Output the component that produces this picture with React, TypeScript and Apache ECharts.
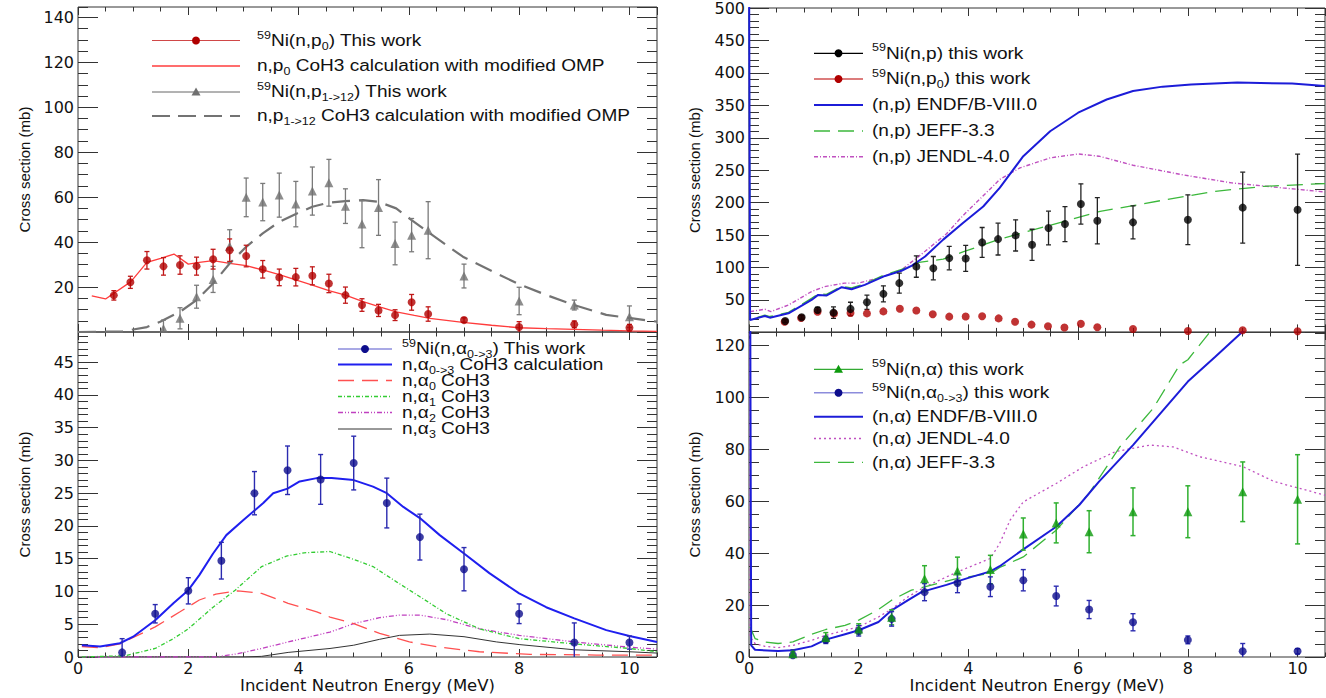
import React, { useEffect, useRef } from "react";
import * as echarts from "echarts";

// ---------------- DATA ----------------
// Top-left: 59Ni(n,p0) and (n,p1->12)
const NP0_E = [0.65, 0.95, 1.25, 1.55, 1.85, 2.15, 2.45, 2.75, 3.05, 3.35, 3.65, 3.95, 4.25, 4.55, 4.85, 5.15, 5.45, 5.75, 6.05, 6.35, 7, 8, 9, 10];
const NP0_XS = [16.3, 22.1, 31.9, 29.2, 29.8, 29.3, 32.4, 36.4, 33.8, 27.9, 24.3, 24.4, 25.0, 21.6, 16.4, 12.0, 9.6, 7.5, 13.2, 8.0, 5.3, 2.2, 3.4, 1.9];
const NP0_ERR = [2.1, 2.7, 3.9, 3.9, 4.1, 4.0, 4.4, 5.0, 4.8, 3.9, 3.7, 3.9, 4.0, 4.1, 3.6, 2.8, 2.7, 2.4, 3.5, 3.2, 1.0, 2.4, 1.5, 1.5];

const NP1_E = [1.55, 1.85, 2.15, 2.45, 2.75, 3.05, 3.35, 3.65, 3.95, 4.25, 4.55, 4.85, 5.15, 5.45, 5.75, 6.05, 6.35, 7, 8, 9, 10];
const NP1_XS = [1.6, 6.1, 15.7, 23.4, 38.2, 59.9, 57.8, 60.9, 56.9, 62.7, 66.4, 56.0, 48.0, 55.4, 39.4, 43.1, 45.3, 24.9, 13.8, 12.0, 6.8];
const NP1_ERR = [3.7, 4.7, 5.1, 5.8, 7.3, 8.6, 8.3, 9.8, 10.1, 10.7, 10.4, 7.7, 10.5, 12.4, 9.5, 7.4, 12.7, 5.3, 6.1, 2.2, 4.8];

const COH3_P0_E = [0.25, 0.5, 0.96, 1.25, 1.5, 1.74, 2.0, 2.2, 2.45, 2.75, 3.05, 3.35, 3.65, 3.95, 4.25, 4.55, 4.85, 5.17, 5.5, 5.77, 6.1, 6.38, 6.98, 7.5, 8.0, 8.5, 9.0, 9.5, 10.0, 10.5];
const COH3_P0_XS = [16.1, 14.7, 22.4, 31.0, 32.8, 34.7, 30.2, 31.0, 31.8, 30.5, 29.5, 27.6, 25.5, 23.2, 20.9, 18.4, 16.4, 13.5, 11.0, 9.0, 7.4, 6.1, 4.3, 3.0, 1.9, 1.5, 1.2, 0.8, 0.5, 0.3];

const COH3_P1_E = [0, 0.8, 1.25, 1.49, 1.85, 2.15, 2.45, 2.75, 3.05, 3.35, 3.65, 3.97, 4.25, 4.55, 4.85, 5.17, 5.45, 5.77, 6.05, 6.38, 6.98, 7.59, 8.0, 8.5, 9.0, 9.58, 10.5];
const COH3_P1_XS = [0, 0.2, 2.2, 4.6, 9.0, 14.2, 21.6, 30.5, 37.9, 43.9, 49.0, 52.7, 55.7, 57.6, 58.2, 58.7, 57.9, 55.0, 49.8, 43.9, 33.5, 26.1, 21.2, 16.4, 12.0, 7.6, 4.6];

// Bottom-left: 59Ni(n,alpha 0->3)
const NA03_E = [0.8, 1.4, 2.0, 2.6, 3.2, 3.8, 4.4, 5.0, 5.6, 6.2, 7.0, 8.0, 9.0, 10.0];
const NA03_XS = [0.7, 6.6, 10.1, 14.7, 25.0, 28.5, 27.1, 29.6, 23.5, 18.3, 13.4, 6.6, 2.2, 2.2];
const NA03_ERR = [2.1, 1.4, 2.0, 2.8, 3.3, 3.7, 3.8, 4.1, 3.8, 3.5, 3.3, 1.5, 3.0, 1.0];

const A03_E = [0.07, 0.4, 0.76, 1.0, 1.4, 1.73, 2.0, 2.2, 2.45, 2.69, 3.0, 3.36, 3.54, 3.8, 4.02, 4.33, 4.6, 5.0, 5.35, 5.6, 5.9, 6.2, 6.56, 7.0, 7.46, 8.0, 8.49, 9.0, 9.58, 10.0, 10.5];
const A03_XS = [1.8, 1.6, 2.1, 3.1, 5.6, 8.2, 10.2, 12.5, 15.8, 18.6, 20.9, 23.5, 25.0, 25.7, 26.8, 27.3, 27.3, 27.0, 26.0, 25.0, 22.9, 21.2, 18.6, 15.8, 12.8, 9.7, 7.6, 5.9, 4.1, 3.2, 2.3];

const A0_E = [0.07, 0.4, 0.76, 1.4, 1.85, 2.2, 2.5, 2.9, 3.33, 3.81, 4.33, 4.57, 5.0, 5.47, 6.01, 6.56, 7.28, 8.2, 9.4, 10.5];
const A0_XS = [1.6, 1.4, 2.0, 4.6, 6.9, 8.7, 9.6, 10.1, 9.7, 8.2, 6.9, 6.1, 5.1, 3.6, 2.3, 1.5, 0.8, 0.4, 0.3, 0.3];

const A1_E = [0.07, 0.86, 1.4, 1.73, 2.0, 2.45, 2.85, 3.33, 3.78, 4.1, 4.57, 5.0, 5.35, 5.77, 6.2, 6.68, 7.28, 8.0, 9.0, 10.0, 10.5];
const A1_XS = [0, 0.2, 1.3, 2.8, 4.3, 7.6, 10.2, 13.8, 15.4, 15.9, 16.1, 14.9, 13.8, 11.5, 9.2, 6.6, 4.3, 2.8, 2.0, 1.3, 0.8];

const A2_E = [0.07, 2.5, 2.9, 3.33, 3.81, 4.57, 5.0, 5.47, 5.83, 6.2, 6.68, 7.28, 8.0, 9.0, 10.0, 10.5];
const A2_XS = [0, 0, 0.5, 1.3, 2.3, 3.8, 5.1, 6.0, 6.4, 6.4, 5.7, 4.3, 3.3, 2.3, 1.5, 1.2];

const A3_E = [0.07, 3.0, 3.33, 3.81, 4.57, 5.0, 5.47, 5.83, 6.38, 7.0, 7.59, 8.0, 9.0, 10.0, 10.5];
const A3_XS = [0, 0, 0.1, 0.7, 1.3, 1.8, 2.7, 3.3, 3.5, 3.1, 2.3, 1.9, 1.1, 0.8, 0.6];

// Top-right: 59Ni(n,p) total + evaluations
const NP_E = [0.66, 0.96, 1.25, 1.54, 1.85, 2.15, 2.45, 2.74, 3.05, 3.36, 3.65, 3.95, 4.25, 4.54, 4.86, 5.16, 5.46, 5.76, 6.05, 6.35, 7.0, 8.0, 9.0, 10.0];
const NP_XS = [17.6, 23.3, 34.6, 30.5, 36.2, 46.5, 59.4, 75.9, 101.5, 99.0, 114.5, 114.0, 138.7, 143.8, 149.5, 135.0, 160.8, 167.0, 198.0, 172.0, 169.6, 173.7, 192.3, 189.0];
const NP_ERR = [2, 3, 4, 8.8, 10.3, 11, 12.4, 15.5, 16.5, 18, 18, 20, 23, 24.5, 24, 24, 26, 27, 31, 35.6, 25.5, 38.4, 54.6, 85.8];

const ENDF_NP_E = [0, 0.02, 0.29, 0.38, 0.72, 1.14, 1.26, 1.41, 1.69, 1.87, 2.11, 2.48, 2.78, 2.97, 3.21, 3.54, 3.9, 4.27, 4.57, 5.0, 5.49, 6.0, 6.52, 7.0, 7.54, 8.06, 8.9, 9.9, 10.5];
const ENDF_NP_XS = [600, 19, 25.3, 22.7, 29.5, 50, 57.8, 56.7, 69.7, 66.6, 73.3, 87, 95, 103, 117, 143, 168.6, 194, 222.7, 271.6, 310, 338.6, 359, 372, 378.8, 382, 385, 383.5, 379.8];

const JEFF_NP_E = [0, 0.02, 0.29, 0.38, 0.72, 1.14, 1.26, 1.41, 1.69, 1.87, 2.11, 2.48, 2.78, 3.1, 3.54, 3.9, 4.54, 5.18, 5.79, 6.4, 7.0, 7.6, 8.5, 9.4, 10.5];
const JEFF_NP_XS = [600, 20, 26.5, 24.5, 31, 52.5, 59.5, 58.5, 71, 68.5, 75, 89, 97, 108, 113, 124, 142.8, 158, 172, 186.6, 195.4, 204.6, 217.5, 225.2, 229.4];

const JENDL_NP_E = [0.02, 0.29, 0.4, 0.72, 1.14, 1.38, 1.74, 1.99, 2.36, 2.78, 3.21, 3.6, 3.9, 4.57, 4.94, 5.49, 6.0, 6.38, 7.0, 7.9, 8.8, 9.73, 10.5];
const JENDL_NP_XS = [32, 35.7, 32, 42.3, 63, 70.6, 76, 76, 83.6, 96.4, 125, 152, 180, 235.6, 253.6, 269, 275, 271.6, 257.7, 243, 230.4, 222.7, 216.5];

// Bottom-right: 59Ni(n,alpha) total + evaluations
const NA_E = [0.8, 1.4, 2.0, 2.6, 3.2, 3.8, 4.4, 5.0, 5.6, 6.2, 7.0, 8.0, 9.0, 10.0];
const NA_XS = [1.3, 7.5, 10.8, 15.3, 30.2, 33.2, 33.7, 47.4, 51.7, 48.3, 56.0, 56.0, 63.7, 60.8];
const NA_ERR = [0.8, 1.9, 2.0, 2.9, 5.0, 5.3, 5.5, 6.2, 7.7, 8.1, 9.2, 10.0, 11.5, 17.2];

const ENDF_NA_E = [0, 0.04, 0.11, 0.53, 0.8, 1.14, 1.4, 1.75, 2.0, 2.36, 2.6, 2.9, 3.15, 3.6, 4.0, 4.4, 4.57, 5.0, 5.6, 6.02, 6.38, 7.0, 8.0, 8.5, 9.0, 9.5];
const ENDF_NA_XS = [300, 4.5, 2.8, 2.3, 2.6, 4.1, 6.7, 8.8, 10.3, 13.5, 18, 21.9, 25.1, 27.8, 30.5, 33, 35, 41.5, 50.2, 58.6, 67.6, 81.7, 106.2, 115.8, 125.5, 135];

const JEFF_NA_E = [0.02, 0.11, 0.29, 0.53, 0.8, 1.14, 1.4, 1.75, 2.0, 2.36, 2.6, 2.96, 3.2, 3.8, 4.4, 4.57, 5.0, 5.6, 6.2, 6.76, 7.37, 7.85, 8.0, 8.43, 8.8];
const JEFF_NA_XS = [11.6, 7.1, 5.8, 5.2, 5.8, 8.8, 10.6, 12.2, 14.2, 18.3, 21.9, 25.8, 27, 30.3, 32.2, 34.5, 38.6, 48.9, 63.1, 81, 95.9, 112.6, 114.6, 126, 135];

const JENDL_NA_E = [0, 0.02, 0.11, 0.29, 0.53, 0.8, 1.14, 1.4, 1.75, 2.0, 2.36, 2.6, 2.9, 3.2, 3.8, 4.4, 4.57, 4.76, 5.0, 5.6, 6.1, 6.68, 7.31, 7.73, 8.22, 9.0, 9.58, 10.5];
const JENDL_NA_XS = [300, 7.7, 5.2, 4.1, 3.6, 4.5, 6.4, 8.4, 10.3, 11.6, 15.4, 18.5, 23.2, 27, 32.8, 38, 43.8, 52.8, 59.8, 66.9, 73.4, 79.2, 81.7, 81, 77.2, 73.4, 67.6, 62.4];

// Axis / text
const X_NAME = "Incident Neutron Energy (MeV)";
const Y_NAME = "Cross section (mb)";
const X_MAX = 10.5;

// ---------------- LAYOUT ----------------
const GRIDS = [
  { left: 78, top: 7, width: 579, height: 325, yMax: 144.6, yMajor: 20, yMinor: 5, showX: false, showMinY: false, showMaxY: false, nameGap: 46 },
  { left: 78, top: 332, width: 579, height: 325, yMax: 49.6, yMajor: 5, yMinor: 1, showX: true, showMinY: true, showMaxY: false, nameGap: 46 },
  { left: 749, top: 8, width: 576, height: 324.4, yMax: 500, yMajor: 50, yMinor: 10, showX: false, showMinY: false, showMaxY: true, nameGap: 47 },
  { left: 749, top: 332, width: 576, height: 325, yMax: 125.3, yMajor: 20, yMinor: 5, showX: true, showMinY: true, showMaxY: false, nameGap: 47 },
];

const TICK = "#333";
const LABEL_FONT = "DejaVu Sans";
const LEG_FONT = "Liberation Sans";

function zip(xs: number[], ys: number[]) {
  return xs.map((x, i) => [x, ys[i]]);
}

function buildAxes() {
  const xAxis: any[] = [];
  const yAxis: any[] = [];
  GRIDS.forEach((g, gi) => {
    const xb = { type: "value", gridIndex: gi, min: 0, max: X_MAX, splitLine: { show: false }, axisLine: { show: false, onZero: false } };
    xAxis.push({
      ...xb, position: "bottom", interval: 2,
      axisTick: { inside: true, length: 8, lineStyle: { color: TICK, width: 1 } },
      axisLabel: { show: g.showX, margin: 3, fontSize: 16, fontFamily: LABEL_FONT, color: "#111", showMaxLabel: false },
      name: g.showX ? X_NAME : "", nameLocation: "middle", nameGap: 18,
      nameTextStyle: { fontSize: 16.5, fontFamily: LABEL_FONT, color: "#111" },
    });
    xAxis.push({ ...xb, position: "bottom", interval: 0.5, axisTick: { inside: true, length: 4.5, lineStyle: { color: TICK, width: 1 } }, axisLabel: { show: false } });
    xAxis.push({ ...xb, position: "top", interval: 2, axisTick: { inside: true, length: 8, lineStyle: { color: TICK, width: 1 } }, axisLabel: { show: false } });
    xAxis.push({ ...xb, position: "top", interval: 0.5, axisTick: { inside: true, length: 4.5, lineStyle: { color: TICK, width: 1 } }, axisLabel: { show: false } });

    const yb = { type: "value", gridIndex: gi, min: 0, max: g.yMax, splitLine: { show: false }, axisLine: { show: false, onZero: false } };
    yAxis.push({
      ...yb, position: "left", interval: g.yMajor,
      axisTick: { inside: true, length: 20, lineStyle: { color: TICK, width: 1 } },
      axisLabel: { show: true, margin: 4, fontSize: 16, fontFamily: LABEL_FONT, color: "#111", showMinLabel: g.showMinY, showMaxLabel: g.showMaxY },
      name: Y_NAME, nameLocation: "middle", nameRotate: 90, nameGap: g.nameGap,
      nameTextStyle: { fontSize: 15, fontFamily: LEG_FONT, color: "#111" },
    });
    yAxis.push({ ...yb, position: "left", interval: g.yMinor, axisTick: { inside: true, length: 10, lineStyle: { color: TICK, width: 1 } }, axisLabel: { show: false } });
    yAxis.push({ ...yb, position: "right", interval: g.yMajor, axisTick: { inside: true, length: 20, lineStyle: { color: TICK, width: 1 } }, axisLabel: { show: false } });
    yAxis.push({ ...yb, position: "right", interval: g.yMinor, axisTick: { inside: true, length: 10, lineStyle: { color: TICK, width: 1 } }, axisLabel: { show: false } });
  });
  return { xAxis, yAxis };
}

function buildSeries() {
  const s: any[] = [];
  const curve = (gi: number, xs: number[], ys: number[], color: string, width: number, dash?: number[]) =>
    s.push({
      type: "line", xAxisIndex: gi * 4, yAxisIndex: gi * 4, data: zip(xs, ys),
      showSymbol: false, symbol: "none", silent: true, z: 3, clip: true,
      lineStyle: { color, width, type: dash ? dash : "solid" },
    });
  const errs = (gi: number, xs: number[], ys: number[], es: number[], color: string, width: number, cap: number) =>
    s.push({
      type: "custom", xAxisIndex: gi * 4, yAxisIndex: gi * 4, clip: true, silent: true, z: 4,
      data: xs.map((x, i) => [x, ys[i], es[i]]),
      renderItem: (_p: any, api: any) => {
        const x = api.value(0), y = api.value(1), e = api.value(2);
        const lo = api.coord([x, y - e]);
        const hi = api.coord([x, y + e]);
        const st = { stroke: color, lineWidth: width };
        return {
          type: "group",
          children: [
            { type: "line", shape: { x1: lo[0], y1: lo[1], x2: hi[0], y2: hi[1] }, style: st },
            { type: "line", shape: { x1: lo[0] - cap, y1: lo[1], x2: lo[0] + cap, y2: lo[1] }, style: st },
            { type: "line", shape: { x1: hi[0] - cap, y1: hi[1], x2: hi[0] + cap, y2: hi[1] }, style: st },
          ],
        };
      },
    });
  const pts = (gi: number, xs: number[], ys: number[], color: string, symbol: string, size: number) =>
    s.push({
      type: "scatter", xAxisIndex: gi * 4, yAxisIndex: gi * 4, data: zip(xs, ys),
      symbol, symbolSize: size, itemStyle: { color }, silent: true, z: 5, clip: true,
    });

  // Top-left
  curve(0, COH3_P0_E, COH3_P0_XS, "#ff3c3c", 1.3);
  curve(0, COH3_P1_E, COH3_P1_XS, "#737373", 2.2, [18, 9]);
  errs(0, NP1_E, NP1_XS, NP1_ERR, "#7a7a7a", 1.3, 2.5);
  errs(0, NP0_E, NP0_XS, NP0_ERR, "#c01818", 1.3, 2.5);
  pts(0, NP1_E, NP1_XS, "#707070", "triangle", 9);
  pts(0, NP0_E, NP0_XS, "#b00000", "circle", 8);

  // Bottom-left
  curve(1, A3_E, A3_XS, "#333333", 1);
  curve(1, A2_E, A2_XS, "#c040c0", 1.3, [5, 2, 1, 2, 1, 2]);
  curve(1, A1_E, A1_XS, "#33cc33", 1.3, [4, 2, 1, 2]);
  curve(1, A0_E, A0_XS, "#ff5050", 1.3, [16, 8]);
  curve(1, A03_E, A03_XS, "#1f1fef", 2);
  errs(1, NA03_E, NA03_XS, NA03_ERR, "#2b2bb0", 1.4, 2.5);
  pts(1, NA03_E, NA03_XS, "#0d0d8c", "circle", 8);

  // Top-right
  curve(2, JENDL_NP_E, JENDL_NP_XS, "#c050c0", 1.4, [4, 2, 1, 2]);
  curve(2, JEFF_NP_E, JEFF_NP_XS, "#3cb83c", 1.3, [16, 8]);
  curve(2, ENDF_NP_E, ENDF_NP_XS, "#1c1cd8", 2);
  errs(2, NP_E, NP_XS, NP_ERR, "#222222", 1.3, 2.5);
  pts(2, NP0_E, NP0_XS, "#b00000", "circle", 8);
  pts(2, NP_E, NP_XS, "#000000", "circle", 8);

  // Bottom-right
  curve(3, JENDL_NA_E, JENDL_NA_XS, "#c050c0", 1.3, [2, 3]);
  curve(3, JEFF_NA_E, JEFF_NA_XS, "#3cb83c", 1.3, [16, 8]);
  curve(3, ENDF_NA_E, ENDF_NA_XS, "#1c1cd8", 2);
  errs(3, NA_E, NA_XS, NA_ERR, "#30b030", 1.5, 2.5);
  errs(3, NA03_E, NA03_XS, NA03_ERR, "#2b2bb0", 1.4, 2.5);
  pts(3, NA03_E, NA03_XS, "#0d0d8c", "circle", 8);
  pts(3, NA_E, NA_XS, "#0e9a0e", "triangle", 9);
  return s;
}

// ---------------- LEGENDS (graphic) ----------------
const RICH = {
  sup: { fontSize: 10.5, fontFamily: LEG_FONT, fill: "#111", lineHeight: 14, verticalAlign: "top" },
  sub: { fontSize: 10.5, fontFamily: LEG_FONT, fill: "#111", lineHeight: 8, verticalAlign: "bottom" },
};

type Row = { y: number; text: string; color: string; width: number; dash?: number[]; marker?: string; mcolor?: string };

function legendBlock(x1: number, x2: number, tx: number, rows: Row[]) {
  const els: any[] = [];
  rows.forEach((r) => {
    els.push({
      type: "line", silent: true, z: 10,
      shape: { x1, y1: r.y, x2, y2: r.y },
      style: { stroke: r.color, lineWidth: r.width, lineDash: r.dash || null },
    });
    const mx = (x1 + x2) / 2;
    if (r.marker === "circle") {
      els.push({ type: "circle", silent: true, z: 11, shape: { cx: mx, cy: r.y, r: 4 }, style: { fill: r.mcolor } });
    } else if (r.marker === "triangle") {
      els.push({ type: "polygon", silent: true, z: 11, shape: { points: [[mx, r.y - 4.5], [mx + 4.5, r.y + 3.5], [mx - 4.5, r.y + 3.5]] }, style: { fill: r.mcolor } });
    }
    els.push({
      type: "text", silent: true, z: 11, x: tx, y: r.y, scaleX: 1.19,
      style: { text: r.text, x: 0, y: 0, fontFamily: LEG_FONT, fontSize: 16, fill: "#111", align: "left", verticalAlign: "middle", lineHeight: 22, rich: RICH },
    });
  });
  return els;
}

function buildGraphic() {
  return [
    ...legendBlock(152, 240, 257, [
      { y: 40.5, text: "{sup|59}Ni(n,p{sub|0}) This work", color: "#d04848", width: 1.2, marker: "circle", mcolor: "#b00000" },
      { y: 66, text: "n,p{sub|0} CoH3 calculation with modified OMP", color: "#ff3c3c", width: 1.5 },
      { y: 92, text: "{sup|59}Ni(n,p{sub|1->12}) This work", color: "#666666", width: 1, marker: "triangle", mcolor: "#707070" },
      { y: 116, text: "n,p{sub|1->12} CoH3 calculation with modified OMP", color: "#737373", width: 2, dash: [18, 8] },
    ]),
    ...legendBlock(338, 392, 402, [
      { y: 349, text: "{sup|59}Ni(n,α{sub|0->3}) This work", color: "#8c8cdc", width: 1.5, marker: "circle", mcolor: "#0d0d8c" },
      { y: 364.5, text: "n,α{sub|0->3} CoH3 calculation", color: "#1f1fef", width: 2 },
      { y: 380.5, text: "n,α{sub|0} CoH3", color: "#ff5050", width: 1.3, dash: [16, 8] },
      { y: 396.5, text: "n,α{sub|1} CoH3", color: "#33cc33", width: 1.3, dash: [4, 2, 1, 2] },
      { y: 412.5, text: "n,α{sub|2} CoH3", color: "#c040c0", width: 1.3, dash: [5, 2, 1, 2, 1, 2] },
      { y: 429, text: "n,α{sub|3} CoH3", color: "#333333", width: 1 },
    ]),
    ...legendBlock(814, 863, 872, [
      { y: 53.3, text: "{sup|59}Ni(n,p) this work", color: "#000000", width: 1.2, marker: "circle", mcolor: "#000000" },
      { y: 79, text: "{sup|59}Ni(n,p{sub|0}) this work", color: "#d05050", width: 1.5, marker: "circle", mcolor: "#b00000" },
      { y: 105, text: "(n,p) ENDF/B-VIII.0", color: "#1c1cd8", width: 2 },
      { y: 131, text: "(n,p) JEFF-3.3", color: "#3cb83c", width: 1.3, dash: [16, 8] },
      { y: 156.7, text: "(n,p) JENDL-4.0", color: "#c050c0", width: 1.4, dash: [4, 2, 1, 2] },
    ]),
    ...legendBlock(814, 863, 872, [
      { y: 369.3, text: "{sup|59}Ni(n,α) this work", color: "#33aa33", width: 1.2, marker: "triangle", mcolor: "#0e9a0e" },
      { y: 392.7, text: "{sup|59}Ni(n,α{sub|0->3}) this work", color: "#8c8cdc", width: 1.5, marker: "circle", mcolor: "#0d0d8c" },
      { y: 416.7, text: "(n,α) ENDF/B-VIII.0", color: "#1c1cd8", width: 2 },
      { y: 438.5, text: "(n,α) JENDL-4.0", color: "#c050c0", width: 1.3, dash: [2, 3] },
      { y: 462.3, text: "(n,α) JEFF-3.3", color: "#3cb83c", width: 1.3, dash: [16, 8] },
    ]),
  ];
}

export default function App() {
  const ref = useRef<HTMLDivElement>(null);
  useEffect(() => {
    if (!ref.current) return;
    const chart = echarts.init(ref.current, undefined, { renderer: "svg" });
    const { xAxis, yAxis } = buildAxes();
    chart.setOption({
      animation: false,
      backgroundColor: "#ffffff",
      grid: GRIDS.map((g) => ({
        left: g.left, top: g.top, width: g.width, height: g.height,
        show: true, borderColor: "#333", borderWidth: 1, backgroundColor: "transparent", containLabel: false,
      })),
      xAxis,
      yAxis,
      series: buildSeries(),
      graphic: buildGraphic(),
    });
    return () => chart.dispose();
  }, []);
  return <div ref={ref} style={{ position: "fixed", left: 0, top: 0, width: 1326, height: 698, background: "#fff" }} />;
}
